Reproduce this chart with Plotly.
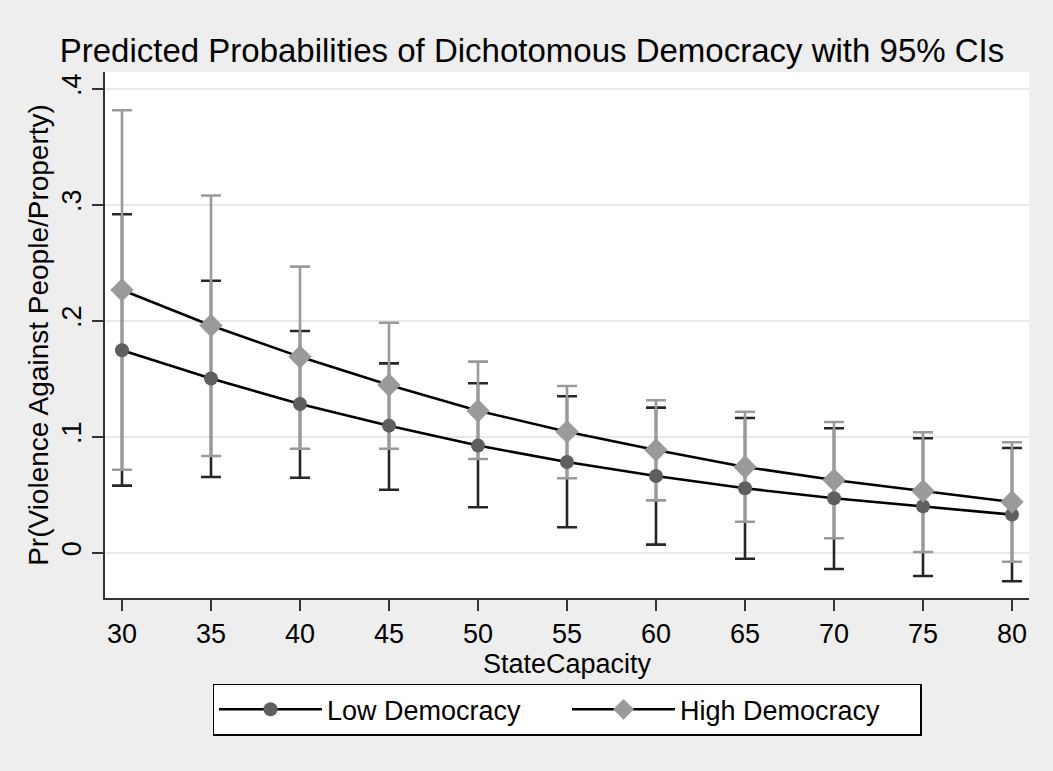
import plotly.graph_objects as go

state_capacity = [30, 35, 40, 45, 50, 55, 60, 65, 70, 75, 80]

low_pred = [0.1746, 0.1502, 0.1283, 0.1096, 0.0924, 0.0783, 0.0662, 0.0556, 0.0470, 0.0401, 0.0329]
low_upper = [0.2918, 0.2345, 0.1912, 0.1633, 0.1461, 0.1350, 0.1251, 0.1162, 0.1073, 0.0987, 0.0903]
low_lower = [0.0579, 0.0653, 0.0647, 0.0543, 0.0392, 0.0220, 0.0070, -0.0052, -0.0140, -0.0200, -0.0246]

high_pred = [0.2265, 0.1960, 0.1689, 0.1446, 0.1225, 0.1044, 0.0886, 0.0740, 0.0628, 0.0533, 0.0438]
high_upper = [0.3815, 0.3080, 0.2467, 0.1983, 0.1648, 0.1438, 0.1315, 0.1216, 0.1128, 0.1039, 0.0953]
high_lower = [0.0716, 0.0834, 0.0897, 0.0897, 0.0809, 0.0642, 0.0452, 0.0268, 0.0125, 0.0007, -0.0077]

y_tickvals = [0, 0.1, 0.2, 0.3, 0.4]
y_ticktext = ["0", ".1", ".2", ".3", ".4"]
x_tickvals = [30, 35, 40, 45, 50, 55, 60, 65, 70, 75, 80]

FONT = "Liberation Sans, Arial, Helvetica, sans-serif"
LOW_CI = "#262626"
HIGH_CI = "#9a9a9a"
LOW_MK = "#5f5f5f"
HIGH_MK = "#9a9a9a"

fig = go.Figure()

def ci_trace(center, upper, lower, color):
    return go.Scatter(
        x=state_capacity, y=center, mode="markers",
        marker=dict(size=1, color="rgba(0,0,0,0)"),
        error_y=dict(
            type="data", symmetric=False,
            array=[u - c for u, c in zip(upper, center)],
            arrayminus=[c - l for c, l in zip(center, lower)],
            color=color, thickness=2.6, width=10,
        ),
        showlegend=False, hoverinfo="skip",
    )

fig.add_trace(ci_trace(low_pred, low_upper, low_lower, LOW_CI))
fig.add_trace(ci_trace(high_pred, high_upper, high_lower, HIGH_CI))

fig.add_trace(go.Scatter(
    x=state_capacity, y=low_pred, mode="lines+markers", name="Low Democracy",
    line=dict(color="#000000", width=2.6),
    marker=dict(symbol="circle", size=14, color=LOW_MK, line=dict(width=0)),
))
fig.add_trace(go.Scatter(
    x=state_capacity, y=high_pred, mode="lines+markers", name="High Democracy",
    line=dict(color="#000000", width=2.6),
    marker=dict(symbol="diamond", size=18, color=HIGH_MK, line=dict(width=0)),
))

fig.update_layout(
    width=1053, height=771,
    paper_bgcolor="#eeeeee", plot_bgcolor="#ffffff",
    font=dict(family=FONT, color="#000000"),
    margin=dict(l=105, r=24, t=72, b=173, autoexpand=False),
    title=dict(
        text="Predicted Probabilities of Dichotomous Democracy with 95% CIs",
        x=532 / 1053, xanchor="center", xref="container",
        y=1 - 50 / 771, yanchor="middle", yref="container",
        font=dict(size=33, family=FONT, color="#000000"),
    ),
    xaxis=dict(
        range=[29.045, 80.955], tickvals=x_tickvals,
        showgrid=False, zeroline=False,
        showline=True, linecolor="#333333", linewidth=2,
        ticks="outside", ticklen=11, tickwidth=1.5, tickcolor="#333333",
        tickfont=dict(size=27, family=FONT),
        title=dict(text="StateCapacity", font=dict(size=27, family=FONT), standoff=0),
    ),
    yaxis=dict(
        range=[-0.039, 0.4145], tickvals=y_tickvals, ticktext=y_ticktext,
        tickangle=-90,
        showgrid=True, gridcolor="#e8e8e8", gridwidth=2, zeroline=False,
        showline=True, linecolor="#333333", linewidth=2,
        ticks="outside", ticklen=11, tickwidth=1.5, tickcolor="#333333",
        tickfont=dict(size=27, family=FONT),
        title=dict(text="Pr(Violence Against People/Property)", font=dict(size=28, family=FONT), standoff=0),
    ),
    legend=dict(
        orientation="h", x=0.5, xanchor="center", y=-0.163, yanchor="top",
        bgcolor="#ffffff", bordercolor="#000000", borderwidth=1.5,
        font=dict(size=27, family=FONT), itemwidth=103,
        entrywidth=235, tracegroupgap=0,
    ),
)

fig.write_html(
    "out.html",
    config={"displayModeBar": False},
    post_script="document.body.style.margin='0';",
)
